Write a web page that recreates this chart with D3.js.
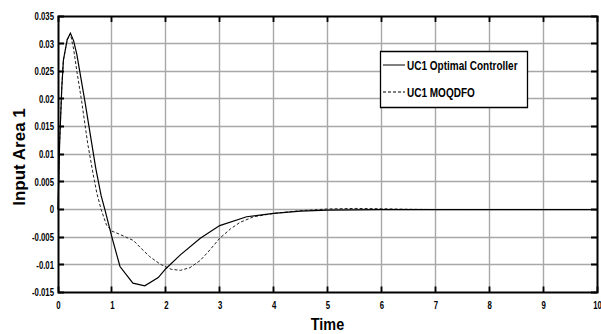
<!DOCTYPE html>
<html><head><meta charset="utf-8">
<script src="https://cdn.jsdelivr.net/npm/d3@7"></script>
<style>body{margin:0;background:#fff}svg{display:block}</style>
</head><body>
<script>
const xTicks = [0,1,2,3,4,5,6,7,8,9,10];
const yTicks = [-0.015,-0.01,-0.005,0,0.005,0.01,0.015,0.02,0.025,0.03,0.035];
const yTickLabels = ["-0.015","-0.01","-0.005","0","0.005","0.01","0.015","0.02","0.025","0.03","0.035"];
const seriesNames = ["UC1 Optimal Controller","UC1 MOQDFO"];
const optimalT = [0,0.03,0.07,0.1,0.17,0.23,0.29,0.35,0.43,0.5,0.6,0.7,0.8,0.87,1.0,1.15,1.39,1.61,1.86,2.0,2.27,2.64,3.0,3.5,4,4.5,5,6,10];
const optimalV = [0,0.012,0.022,0.027,0.0307,0.0319,0.0305,0.028,0.0235,0.0195,0.0135,0.0075,0.0025,0,-0.005,-0.0103,-0.0133,-0.0138,-0.0123,-0.0107,-0.0082,-0.0052,-0.0029,-0.0013,-0.0007,-0.0003,-0.0001,0,0];
const moqdfoT = [0,0.03,0.07,0.1,0.17,0.23,0.29,0.35,0.44,0.55,0.65,0.72,0.8,0.9,1.0,1.15,1.4,1.52,1.7,1.9,2.1,2.27,2.45,2.64,2.8,3.0,3.2,3.38,3.63,4,4.5,5,5.5,6,6.5,7,10];
const moqdfoV = [0,0.012,0.022,0.027,0.0307,0.0318,0.029,0.025,0.0195,0.012,0.0065,0.003,0,-0.0028,-0.0039,-0.0045,-0.0056,-0.0068,-0.0085,-0.0099,-0.0108,-0.011,-0.0105,-0.0092,-0.0075,-0.0052,-0.0035,-0.0023,-0.0013,-0.0007,-0.0002,0.0001,0.0002,0.00015,0.00005,0,0];

const W=601,H=334;
const m={l:58,r:4,t:16,b:41.5};
const svg=d3.select("body").append("svg").attr("width",W).attr("height",H).attr("viewBox",`0 0 ${W} ${H}`);
const x=d3.scaleLinear().domain([0,10]).range([m.l,W-m.r]);
const y=d3.scaleLinear().domain([-0.015,0.035]).range([H-m.b,m.t]);
const font="'Liberation Sans',Arial,sans-serif";
const x0=x(0),x1=x(10),y0=y(-0.015),y1=y(0.035);
const snap=v=>Math.round(v-0.5)+0.5;

function squeeze(sel,f){
  sel.each(function(){const L=this.getComputedTextLength();
    d3.select(this).attr("textLength",L*f).attr("lengthAdjust","spacingAndGlyphs");});
}

// grid
const gridPath=d3.path();
xTicks.slice(1,-1).forEach(d=>{gridPath.moveTo(snap(x(d)),y1);gridPath.lineTo(snap(x(d)),y0);});
yTicks.slice(1,-1).forEach(d=>{gridPath.moveTo(x0,snap(y(d)));gridPath.lineTo(x1,snap(y(d)));});
svg.append("path").attr("d",gridPath.toString()).attr("fill","none").attr("stroke","#a8a8a8").attr("stroke-width",1.4);

// inward tick marks
const tickPath=d3.path();
xTicks.forEach(d=>{tickPath.moveTo(snap(x(d)),y0);tickPath.lineTo(snap(x(d)),y0-6);tickPath.moveTo(snap(x(d)),y1);tickPath.lineTo(snap(x(d)),y1+6);});
yTicks.forEach(d=>{tickPath.moveTo(x0,snap(y(d)));tickPath.lineTo(x0+6,snap(y(d)));tickPath.moveTo(x1,snap(y(d)));tickPath.lineTo(x1-6,snap(y(d)));});
svg.append("path").attr("d",tickPath.toString()).attr("fill","none").attr("stroke","#000").attr("stroke-width",1.8);

// box
const boxPath=d3.path();
boxPath.rect(snap(x0),snap(y1),snap(x1)-snap(x0),snap(y0)-snap(y1));
svg.append("path").attr("d",boxPath.toString()).attr("fill","none").attr("stroke","#000").attr("stroke-width",2);

// tick labels
const axB=svg.append("g").attr("transform",`translate(0,${y0})`)
 .call(d3.axisBottom(x).tickValues(xTicks).tickSize(0).tickPadding(9).tickFormat(d3.format("d")));
const axL=svg.append("g").attr("transform",`translate(${x0},0)`)
 .call(d3.axisLeft(y).tickValues(yTicks).tickSize(0).tickPadding(4).tickFormat(d=>yTickLabels[yTicks.indexOf(d)]));
[axB,axL].forEach(a=>{
  a.selectAll("path.domain").remove();
  a.selectAll("text").attr("font-family",font).attr("font-weight","bold").attr("font-size","10.5px").attr("fill","#000");
  squeeze(a.selectAll("text"),0.74);
});

// curves
const line=d3.line().x(d=>x(d[0])).y(d=>y(d[1]));
const optData=optimalT.map((t,i)=>[t,optimalV[i]]);
const moqData=moqdfoT.map((t,i)=>[t,moqdfoV[i]]);
svg.append("path").datum(moqData).attr("d",line).attr("fill","none").attr("stroke","#222").attr("stroke-width",1).attr("stroke-dasharray","3,2");
svg.append("path").datum(optData).attr("d",line).attr("fill","none").attr("stroke","#000").attr("stroke-width",1.2);

// axis titles
const tl=svg.append("text").attr("x",(x0+x1)/2).attr("y",330).attr("text-anchor","middle")
 .attr("font-family",font).attr("font-weight","bold").attr("font-size","16px").text("Time");
squeeze(tl,0.9);
svg.append("text").attr("transform",`translate(25,157) rotate(-90)`).attr("text-anchor","middle")
 .attr("font-family",font).attr("font-weight","bold").attr("font-size","17px").text("Input Area 1");

// legend
const lg=svg.append("g");
const lb=d3.path(); lb.rect(380.5,51.5,147,56);
lg.append("path").attr("d",lb.toString()).attr("fill","#fff").attr("stroke","#000").attr("stroke-width",1.3);
const rows=[{name:seriesNames[0],dash:null,yy:65},{name:seriesNames[1],dash:"3,2",yy:92}];
rows.forEach(r=>{
  const lp=d3.path(); lp.moveTo(383,r.yy); lp.lineTo(405,r.yy);
  lg.append("path").attr("d",lp.toString()).attr("stroke","#000").attr("stroke-width",1).attr("stroke-dasharray",r.dash);
  const t=lg.append("text").attr("x",407).attr("y",r.yy+4.5).attr("font-family",font).attr("font-weight","bold").attr("font-size","12.5px").text(r.name);
  squeeze(t,0.8);
});
</script>
</body></html>
